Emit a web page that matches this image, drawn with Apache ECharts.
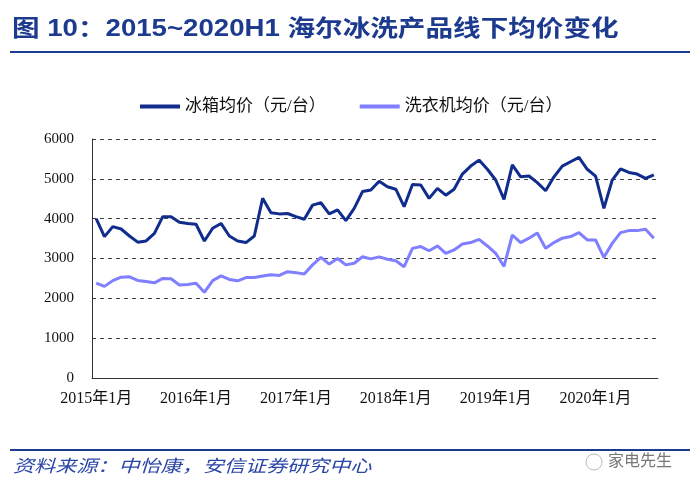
<!DOCTYPE html>
<html><head><meta charset="utf-8">
<script src="https://cdn.jsdelivr.net/npm/echarts@6/dist/echarts.min.js"></script>
<style>html,body{margin:0;padding:0;background:#fff}#c{width:700px;height:493px}</style>
</head><body><div id="c"></div>
<script>
var titleText = '图 10：2015~2020H1 海尔冰洗产品线下均价变化';
var sourceText = '资料来源：中怡康，安信证券研究中心';
var watermarkText = '家电先生';
var seriesNames = ['冰箱均价（元/台）', '洗衣机均价（元/台）'];
var startYear = 2015, monthCount = 68;
var months = [];
for (var i = 0; i < monthCount; i++) {
  months.push((startYear + Math.floor(i / 12)) + '年' + (i % 12 + 1) + '月');
}
var fridge = [4000,3550,3800,3740,3565,3410,3440,3630,4050,4050,
  3910,3880,3860,3440,3760,3880,3565,3440,3400,3565,
  4510,4150,4120,4130,4050,3985,4340,4400,4120,4220,
  3950,4260,4680,4720,4940,4800,4740,4300,4860,4845,
  4510,4760,4590,4740,5120,5320,5470,5240,4970,4485,
  5350,5050,5070,4905,4700,5050,5320,5430,5540,5240,
  5070,4260,4970,5250,5160,5120,5010,5100];
var washer = [2380,2300,2445,2530,2540,2450,2420,2390,2500,2490,
  2335,2345,2378,2150,2445,2565,2475,2440,2520,2525,
  2560,2590,2575,2670,2645,2610,2840,3030,2860,3000,
  2840,2880,3045,2990,3040,2980,2945,2795,3255,3300,
  3195,3315,3130,3215,3365,3400,3480,3315,3130,2800,
  3590,3400,3510,3640,3255,3400,3510,3550,3650,3465,
  3465,3030,3380,3650,3700,3700,3735,3510];
var yMin = 0, yMax = 6000, yStep = 1000;

var serif = '"Liberation Serif","Noto Sans CJK SC",serif';
var chart = echarts.init(document.getElementById('c'), null, {renderer: 'canvas'});
chart.setOption({
  animation: false,
  backgroundColor: '#fff',
  graphic: [
    {type: 'text', x: 12, y: 18, scaleX: 1.2, style: {text: titleText, fill: '#1c3a8e', font: 'bold 23px "Liberation Sans","Noto Sans CJK SC",sans-serif'}},
    {type: 'rect', shape: {x: 10, y: 51, width: 680, height: 2}, style: {fill: '#1c3a8e'}},
    {type: 'rect', shape: {x: 10, y: 449, width: 680, height: 2}, style: {fill: '#1c3a8e'}},
    {type: 'text', x: 13, y: 457, scaleX: 1.24, style: {text: sourceText, fill: '#2a45a8', font: 'italic 17px "Noto Sans CJK SC",sans-serif'}},
    {type: 'circle', shape: {cx: 594, cy: 462, r: 8}, style: {fill: 'none', stroke: '#bbb', lineWidth: 1}},
    {type: 'text', x: 608, y: 452, style: {text: watermarkText, fill: '#777', font: '16px "Noto Sans CJK SC",sans-serif'}}
  ],
  legend: {
    top: 93, left: 135,
    itemWidth: 40, itemHeight: 4, itemGap: 34,
    icon: 'rect',
    textStyle: {fontFamily: serif, fontSize: 17, color: '#111'},
    data: seriesNames
  },
  grid: {left: 92, right: 42, top: 139, bottom: 115},
  xAxis: {
    type: 'category', data: months, boundaryGap: true,
    axisLine: {lineStyle: {color: '#333', width: 1}},
    axisTick: {inside: true, length: 4, interval: 11, lineStyle: {color: '#333'}},
    axisLabel: {interval: 11, margin: 13, fontFamily: serif, fontSize: 16, color: '#111'},
    splitLine: {show: false}
  },
  yAxis: {
    type: 'value', min: yMin, max: yMax, interval: yStep,
    axisLine: {show: true, lineStyle: {color: '#333', width: 1}},
    axisTick: {show: true, inside: true, length: 3, lineStyle: {color: '#333'}},
    axisLabel: {margin: 18, fontFamily: serif, fontSize: 15, color: '#111',
      formatter: function (v) { return String(v); }},
    splitLine: {lineStyle: {color: '#444', type: [4, 4], width: 1}}
  },
  series: [
    {name: seriesNames[0], type: 'line', data: fridge, symbol: 'none',
     lineStyle: {color: '#102c8c', width: 3}, itemStyle: {color: '#102c8c'}},
    {name: seriesNames[1], type: 'line', data: washer, symbol: 'none',
     lineStyle: {color: '#7f7fff', width: 3}, itemStyle: {color: '#7f7fff'}}
  ]
});
</script></body></html>
